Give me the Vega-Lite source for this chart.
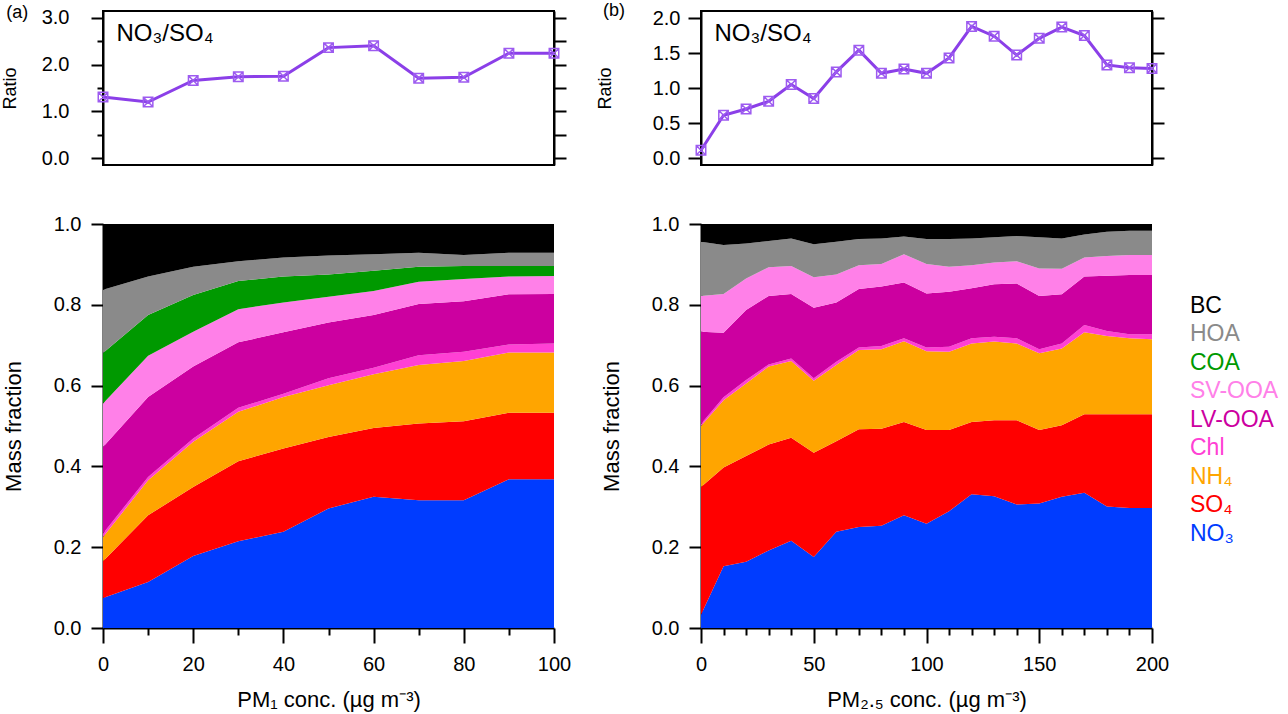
{
  "$schema": "https://vega.github.io/schema/vega-lite/v6.json",
  "padding": {"left": 0, "top": 1, "right": 0, "bottom": 2},
  "background": "white",
  "config": {
    "font": "Liberation Sans",
    "view": {"stroke": null},
    "axis": {
      "domainColor": "black",
      "domainWidth": 2,
      "tickColor": "black",
      "tickWidth": 2,
      "labelColor": "black",
      "labelFontSize": 20,
      "labelFont": "Liberation Sans",
      "titleFont": "Liberation Sans",
      "titleFontSize": 22,
      "titleFontWeight": "normal",
      "titleColor": "black",
      "grid": false,
      "labelOverlap": false,
      "labelFlush": false
    },
    "legend": {
      "orient": "none",
      "legendX": 1064,
      "legendY": 283,
      "title": null,
      "symbolSize": 1,
      "symbolOpacity": 0,
      "symbolStrokeWidth": 0,
      "labelOffset": 0,
      "labelFontSize": 23,
      "labelFont": "Liberation Sans",
      "rowPadding": 4.5
    }
  },
  "datasets": {
    "ratio1": [
      {"conc": 0, "ratio": 1.31}, {"conc": 10, "ratio": 1.20}, {"conc": 20, "ratio": 1.66},
      {"conc": 30, "ratio": 1.74}, {"conc": 40, "ratio": 1.75}, {"conc": 50, "ratio": 2.36},
      {"conc": 60, "ratio": 2.40}, {"conc": 70, "ratio": 1.71}, {"conc": 80, "ratio": 1.73},
      {"conc": 90, "ratio": 2.24}, {"conc": 100, "ratio": 2.24}
    ],
    "ratio25": [
      {"conc": 0, "ratio": 0.11}, {"conc": 10, "ratio": 0.61}, {"conc": 20, "ratio": 0.70},
      {"conc": 30, "ratio": 0.81}, {"conc": 40, "ratio": 1.05}, {"conc": 50, "ratio": 0.85},
      {"conc": 60, "ratio": 1.23}, {"conc": 70, "ratio": 1.54}, {"conc": 80, "ratio": 1.21},
      {"conc": 90, "ratio": 1.27}, {"conc": 100, "ratio": 1.21}, {"conc": 110, "ratio": 1.43},
      {"conc": 120, "ratio": 1.88}, {"conc": 130, "ratio": 1.74}, {"conc": 140, "ratio": 1.47},
      {"conc": 150, "ratio": 1.71}, {"conc": 160, "ratio": 1.87}, {"conc": 170, "ratio": 1.75},
      {"conc": 180, "ratio": 1.33}, {"conc": 190, "ratio": 1.29}, {"conc": 200, "ratio": 1.28}
    ],
    "pm1": [
      {"conc": 0, "NO3": 0.074, "SO4": 0.091, "NH4": 0.060, "Chl": 0.009, "LV-OOA": 0.214, "SV-OOA": 0.108, "COA": 0.125, "HOA": 0.156, "BC": 0.163},
      {"conc": 10, "NO3": 0.114, "SO4": 0.165, "NH4": 0.087, "Chl": 0.008, "LV-OOA": 0.198, "SV-OOA": 0.102, "COA": 0.101, "HOA": 0.095, "BC": 0.130},
      {"conc": 20, "NO3": 0.178, "SO4": 0.171, "NH4": 0.112, "Chl": 0.008, "LV-OOA": 0.178, "SV-OOA": 0.086, "COA": 0.091, "HOA": 0.070, "BC": 0.106},
      {"conc": 30, "NO3": 0.215, "SO4": 0.198, "NH4": 0.122, "Chl": 0.010, "LV-OOA": 0.162, "SV-OOA": 0.082, "COA": 0.070, "HOA": 0.049, "BC": 0.092},
      {"conc": 40, "NO3": 0.238, "SO4": 0.206, "NH4": 0.128, "Chl": 0.008, "LV-OOA": 0.152, "SV-OOA": 0.074, "COA": 0.064, "HOA": 0.047, "BC": 0.083},
      {"conc": 50, "NO3": 0.296, "SO4": 0.177, "NH4": 0.128, "Chl": 0.017, "LV-OOA": 0.138, "SV-OOA": 0.064, "COA": 0.055, "HOA": 0.047, "BC": 0.078},
      {"conc": 60, "NO3": 0.325, "SO4": 0.170, "NH4": 0.133, "Chl": 0.016, "LV-OOA": 0.131, "SV-OOA": 0.059, "COA": 0.050, "HOA": 0.041, "BC": 0.075},
      {"conc": 70, "NO3": 0.316, "SO4": 0.190, "NH4": 0.145, "Chl": 0.024, "LV-OOA": 0.127, "SV-OOA": 0.055, "COA": 0.037, "HOA": 0.035, "BC": 0.071},
      {"conc": 80, "NO3": 0.316, "SO4": 0.196, "NH4": 0.149, "Chl": 0.023, "LV-OOA": 0.125, "SV-OOA": 0.055, "COA": 0.032, "HOA": 0.027, "BC": 0.077},
      {"conc": 90, "NO3": 0.368, "SO4": 0.165, "NH4": 0.149, "Chl": 0.020, "LV-OOA": 0.124, "SV-OOA": 0.044, "COA": 0.026, "HOA": 0.033, "BC": 0.071},
      {"conc": 100, "NO3": 0.368, "SO4": 0.165, "NH4": 0.149, "Chl": 0.022, "LV-OOA": 0.123, "SV-OOA": 0.044, "COA": 0.025, "HOA": 0.033, "BC": 0.071}
    ],
    "pm25": [
      {"conc": 0, "NO3": 0.033, "SO4": 0.316, "NH4": 0.151, "Chl": 0.005, "LV-OOA": 0.228, "SV-OOA": 0.089, "HOA": 0.134, "BC": 0.044},
      {"conc": 10, "NO3": 0.153, "SO4": 0.244, "NH4": 0.167, "Chl": 0.007, "LV-OOA": 0.160, "SV-OOA": 0.096, "HOA": 0.121, "BC": 0.052},
      {"conc": 20, "NO3": 0.164, "SO4": 0.262, "NH4": 0.179, "Chl": 0.009, "LV-OOA": 0.173, "SV-OOA": 0.078, "HOA": 0.087, "BC": 0.048},
      {"conc": 30, "NO3": 0.192, "SO4": 0.262, "NH4": 0.193, "Chl": 0.005, "LV-OOA": 0.170, "SV-OOA": 0.071, "HOA": 0.065, "BC": 0.042},
      {"conc": 40, "NO3": 0.216, "SO4": 0.255, "NH4": 0.190, "Chl": 0.006, "LV-OOA": 0.160, "SV-OOA": 0.069, "HOA": 0.068, "BC": 0.036},
      {"conc": 50, "NO3": 0.176, "SO4": 0.258, "NH4": 0.178, "Chl": 0.006, "LV-OOA": 0.175, "SV-OOA": 0.075, "HOA": 0.082, "BC": 0.050},
      {"conc": 60, "NO3": 0.238, "SO4": 0.224, "NH4": 0.189, "Chl": 0.008, "LV-OOA": 0.147, "SV-OOA": 0.069, "HOA": 0.081, "BC": 0.044},
      {"conc": 70, "NO3": 0.250, "SO4": 0.242, "NH4": 0.196, "Chl": 0.006, "LV-OOA": 0.145, "SV-OOA": 0.059, "HOA": 0.065, "BC": 0.037},
      {"conc": 80, "NO3": 0.253, "SO4": 0.240, "NH4": 0.197, "Chl": 0.008, "LV-OOA": 0.147, "SV-OOA": 0.056, "HOA": 0.063, "BC": 0.036},
      {"conc": 90, "NO3": 0.279, "SO4": 0.231, "NH4": 0.200, "Chl": 0.007, "LV-OOA": 0.138, "SV-OOA": 0.070, "HOA": 0.044, "BC": 0.031},
      {"conc": 100, "NO3": 0.258, "SO4": 0.232, "NH4": 0.195, "Chl": 0.009, "LV-OOA": 0.134, "SV-OOA": 0.073, "HOA": 0.062, "BC": 0.037},
      {"conc": 110, "NO3": 0.289, "SO4": 0.201, "NH4": 0.194, "Chl": 0.012, "LV-OOA": 0.136, "SV-OOA": 0.062, "HOA": 0.069, "BC": 0.037},
      {"conc": 120, "NO3": 0.331, "SO4": 0.179, "NH4": 0.194, "Chl": 0.013, "LV-OOA": 0.124, "SV-OOA": 0.057, "HOA": 0.066, "BC": 0.036},
      {"conc": 130, "NO3": 0.326, "SO4": 0.188, "NH4": 0.195, "Chl": 0.012, "LV-OOA": 0.130, "SV-OOA": 0.054, "HOA": 0.062, "BC": 0.033},
      {"conc": 140, "NO3": 0.306, "SO4": 0.208, "NH4": 0.190, "Chl": 0.013, "LV-OOA": 0.136, "SV-OOA": 0.055, "HOA": 0.062, "BC": 0.030},
      {"conc": 150, "NO3": 0.308, "SO4": 0.182, "NH4": 0.190, "Chl": 0.010, "LV-OOA": 0.132, "SV-OOA": 0.068, "HOA": 0.077, "BC": 0.033},
      {"conc": 160, "NO3": 0.325, "SO4": 0.177, "NH4": 0.190, "Chl": 0.012, "LV-OOA": 0.122, "SV-OOA": 0.063, "HOA": 0.075, "BC": 0.036},
      {"conc": 170, "NO3": 0.335, "SO4": 0.194, "NH4": 0.203, "Chl": 0.018, "LV-OOA": 0.120, "SV-OOA": 0.047, "HOA": 0.057, "BC": 0.026},
      {"conc": 180, "NO3": 0.301, "SO4": 0.228, "NH4": 0.194, "Chl": 0.012, "LV-OOA": 0.137, "SV-OOA": 0.049, "HOA": 0.060, "BC": 0.019},
      {"conc": 190, "NO3": 0.297, "SO4": 0.232, "NH4": 0.188, "Chl": 0.010, "LV-OOA": 0.147, "SV-OOA": 0.049, "HOA": 0.060, "BC": 0.017},
      {"conc": 200, "NO3": 0.297, "SO4": 0.232, "NH4": 0.186, "Chl": 0.012, "LV-OOA": 0.147, "SV-OOA": 0.049, "HOA": 0.060, "BC": 0.017}
    ]
  },
  "columns": 2,
  "spacing": {"row": 44, "column": 24},
  "resolve": {"scale": {"color": "shared", "x": "independent", "y": "independent"}},
  "concat": [
    {
      "width": 451,
      "height": 154,
      "view": {"stroke": "black", "strokeWidth": 2},
      "data": {"name": "ratio1"},
      "layer": [
        {
          "mark": {"type": "line", "color": "#8B3FE8", "strokeWidth": 3},
          "encoding": {
            "x": {
              "field": "conc", "type": "quantitative",
              "scale": {"domain": [0, 100], "nice": false},
              "axis": {
                "values": [0, 10, 20, 30, 40, 50, 60, 70, 80, 90, 100],
                "labels": false, "title": null,
                "tickSize": {"condition": {"test": "datum.value % 20 === 0", "value": 13}, "value": 8}
              }
            },
            "y": {
              "field": "ratio", "type": "quantitative",
              "scale": {"domain": [-0.14, 3.14], "nice": false, "zero": false},
              "axis": {
                "values": [0, 0.5, 1, 1.5, 2, 2.5, 3],
                "labelExpr": "datum.value % 1 === 0 ? format(datum.value, '.1f') : ''",
                "tickSize": {"condition": {"test": "datum.value % 1 === 0", "value": 12}, "value": 6},
                "labelPadding": 22,
                "title": "Ratio", "titleFontSize": 18, "titlePadding": 22
              }
            }
          }
        },
        {
          "mark": {"type": "point", "shape": "M-1,-1H1V1H-1Z M-1,-1L1,1 M1,-1L-1,1", "filled": false, "size": 90, "color": "#9D5BF0", "strokeWidth": 1.5, "opacity": 1},
          "encoding": {
            "x": {"field": "conc", "type": "quantitative", "axis": null},
            "y": {
              "field": "ratio", "type": "quantitative",
              "axis": {"orient": "right", "values": [0, 0.5, 1, 1.5, 2, 2.5, 3], "labels": false, "tickSize": 12, "title": null}
            }
          }
        },
        {
          "transform": [{"filter": "datum.conc === 0"}],
          "mark": {"type": "text", "align": "left", "baseline": "middle", "fontSize": 24, "color": "black"},
          "encoding": {
            "x": {"datum": 3, "type": "quantitative"},
            "y": {"datum": 2.66, "type": "quantitative", "axis": null},
            "text": {"value": "NO₃/SO₄"}
          }
        },
        {
          "transform": [{"filter": "datum.conc === 0"}],
          "mark": {"type": "text", "align": "center", "baseline": "middle", "fontSize": 18, "color": "black"},
          "encoding": {
            "x": {"datum": -19, "type": "quantitative"},
            "y": {"datum": 3.09, "type": "quantitative", "axis": null},
            "text": {"value": "(a)"}
          }
        }
      ],
      "resolve": {"axis": {"y": "independent"}}
    },
    {
      "width": 451,
      "height": 154,
      "view": {"stroke": "black", "strokeWidth": 2},
      "data": {"name": "ratio25"},
      "layer": [
        {
          "mark": {"type": "line", "color": "#8B3FE8", "strokeWidth": 3},
          "encoding": {
            "x": {
              "field": "conc", "type": "quantitative",
              "scale": {"domain": [0, 200], "nice": false},
              "axis": {
                "values": [0, 10, 20, 30, 40, 50, 60, 70, 80, 90, 100, 110, 120, 130, 140, 150, 160, 170, 180, 190, 200],
                "labels": false, "title": null,
                "tickSize": {"condition": {"test": "datum.value % 50 === 0", "value": 13}, "value": 8}
              }
            },
            "y": {
              "field": "ratio", "type": "quantitative",
              "scale": {"domain": [-0.1, 2.1], "nice": false, "zero": false},
              "axis": {
                "values": [0, 0.5, 1, 1.5, 2],
                "format": ".1f",
                "tickSize": 13,
                "labelPadding": 8,
                "title": "Ratio", "titleFontSize": 18, "titlePadding": 38
              }
            }
          }
        },
        {
          "mark": {"type": "point", "shape": "M-1,-1H1V1H-1Z M-1,-1L1,1 M1,-1L-1,1", "filled": false, "size": 90, "color": "#9D5BF0", "strokeWidth": 1.5, "opacity": 1},
          "encoding": {
            "x": {"field": "conc", "type": "quantitative", "axis": null},
            "y": {
              "field": "ratio", "type": "quantitative",
              "axis": {"orient": "right", "values": [0, 0.5, 1, 1.5, 2], "labels": false, "tickSize": 12, "title": null}
            }
          }
        },
        {
          "transform": [{"filter": "datum.conc === 0"}],
          "mark": {"type": "text", "align": "left", "baseline": "middle", "fontSize": 24, "color": "black"},
          "encoding": {
            "x": {"datum": 6, "type": "quantitative"},
            "y": {"datum": 1.77, "type": "quantitative", "axis": null},
            "text": {"value": "NO₃/SO₄"}
          }
        },
        {
          "transform": [{"filter": "datum.conc === 0"}],
          "mark": {"type": "text", "align": "center", "baseline": "middle", "fontSize": 18, "color": "black"},
          "encoding": {
            "x": {"datum": -38.6, "type": "quantitative"},
            "y": {"datum": 2.1, "type": "quantitative", "axis": null},
            "text": {"value": "(b)"}
          }
        }
      ],
      "resolve": {"axis": {"y": "independent"}}
    },
    {
      "width": 451,
      "height": 404,
      "data": {"name": "pm1"},
      "transform": [
        {"fold": ["NO3", "SO4", "NH4", "Chl", "LV-OOA", "SV-OOA", "COA", "HOA", "BC"], "as": ["species", "frac"]},
        {"calculate": "indexof(['NO3', 'SO4', 'NH4', 'Chl', 'LV-OOA', 'SV-OOA', 'COA', 'HOA', 'BC'], datum.species)", "as": "ord"}
      ],
      "mark": {"type": "area", "interpolate": "linear"},
      "encoding": {
        "x": {
          "field": "conc", "type": "quantitative",
          "scale": {"domain": [0, 100], "nice": false},
          "axis": {
            "values": [0, 10, 20, 30, 40, 50, 60, 70, 80, 90, 100],
            "labelExpr": "datum.value % 20 === 0 ? datum.label : ''",
            "tickSize": {"condition": {"test": "datum.value % 20 === 0", "value": 15}, "value": 7},
            "labelPadding": 11,
            "title": "PM₁ conc. (µg m⁻³)", "titlePadding": 15
          }
        },
        "y": {
          "field": "frac", "type": "quantitative", "stack": "zero",
          "scale": {"domain": [0, 1], "nice": false},
          "axis": {
            "values": [0, 0.2, 0.4, 0.6, 0.8, 1],
            "format": ".1f", "tickSize": 12, "labelPadding": 10,
            "title": "Mass fraction", "titlePadding": 28
          }
        },
        "color": {
          "field": "species", "type": "nominal",
          "scale": {
            "domain": ["BC", "HOA", "COA", "SV-OOA", "LV-OOA", "Chl", "NH4", "SO4", "NO3"],
            "range": ["#000000", "#8A8A8A", "#009900", "#FF80E8", "#CC00A0", "#FF40D4", "#FFA500", "#FF0000", "#003CFF"]
          },
          "legend": {
            "labelExpr": "datum.label == 'NH4' ? 'NH₄' : datum.label == 'SO4' ? 'SO₄' : datum.label == 'NO3' ? 'NO₃' : datum.label",
            "encode": {"labels": {"update": {"fill": {"scale": "color", "field": "value"}}}}
          }
        },
        "order": {"field": "ord", "type": "quantitative", "sort": "ascending"}
      }
    },
    {
      "width": 451,
      "height": 404,
      "data": {"name": "pm25"},
      "transform": [
        {"fold": ["NO3", "SO4", "NH4", "Chl", "LV-OOA", "SV-OOA", "HOA", "BC"], "as": ["species", "frac"]},
        {"calculate": "indexof(['NO3', 'SO4', 'NH4', 'Chl', 'LV-OOA', 'SV-OOA', 'COA', 'HOA', 'BC'], datum.species)", "as": "ord"}
      ],
      "mark": {"type": "area", "interpolate": "linear"},
      "encoding": {
        "x": {
          "field": "conc", "type": "quantitative",
          "scale": {"domain": [0, 200], "nice": false},
          "axis": {
            "values": [0, 10, 20, 30, 40, 50, 60, 70, 80, 90, 100, 110, 120, 130, 140, 150, 160, 170, 180, 190, 200],
            "labelExpr": "datum.value % 50 === 0 ? datum.label : ''",
            "tickSize": {"condition": {"test": "datum.value % 50 === 0", "value": 15}, "value": 7},
            "labelPadding": 11,
            "title": "PM₂.₅ conc. (µg m⁻³)", "titlePadding": 15
          }
        },
        "y": {
          "field": "frac", "type": "quantitative", "stack": "zero",
          "scale": {"domain": [0, 1], "nice": false},
          "axis": {
            "values": [0, 0.2, 0.4, 0.6, 0.8, 1],
            "format": ".1f", "tickSize": 12, "labelPadding": 10,
            "title": "Mass fraction", "titlePadding": 28
          }
        },
        "color": {
          "field": "species", "type": "nominal",
          "scale": {
            "domain": ["BC", "HOA", "COA", "SV-OOA", "LV-OOA", "Chl", "NH4", "SO4", "NO3"],
            "range": ["#000000", "#8A8A8A", "#009900", "#FF80E8", "#CC00A0", "#FF40D4", "#FFA500", "#FF0000", "#003CFF"]
          },
          "legend": {
            "labelExpr": "datum.label == 'NH4' ? 'NH₄' : datum.label == 'SO4' ? 'SO₄' : datum.label == 'NO3' ? 'NO₃' : datum.label",
            "encode": {"labels": {"update": {"fill": {"scale": "color", "field": "value"}}}}
          }
        },
        "order": {"field": "ord", "type": "quantitative", "sort": "ascending"}
      }
    }
  ]
}
